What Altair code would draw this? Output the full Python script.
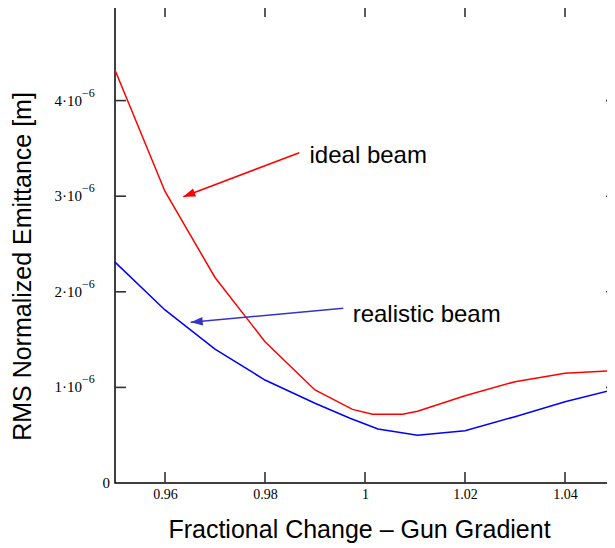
import altair as alt
import pandas as pd

# ---- data ----
ideal_x = [0.95, 0.96, 0.97, 0.98, 0.99, 0.9975, 1.0015, 1.0075, 1.0105, 1.02, 1.03, 1.04, 1.05]
ideal_y = [4.32, 3.05, 2.15, 1.478, 0.973, 0.77, 0.72, 0.72, 0.75, 0.913, 1.06, 1.147, 1.175]
real_x = [0.95, 0.96, 0.97, 0.98, 0.99, 0.997, 1.0, 1.0026, 1.0105, 1.02, 1.03, 1.04, 1.05]
real_y = [2.31, 1.81, 1.40, 1.077, 0.834, 0.677, 0.617, 0.565, 0.499, 0.547, 0.694, 0.85, 0.98]

series_names = ["ideal beam", "realistic beam"]
series_colors = ["#ff0000", "#0000ff"]
arrow_colors = ["#ff0000", "#3434c8"]

# annotation arrows (start -> tip), head centres, text anchors (data units, y in 1e-6 m)
arrow_x0 = [0.98686, 0.99566]
arrow_y0 = [3.455, 1.827]
arrow_x1 = [0.96366, 0.96514]
arrow_y1 = [2.995, 1.681]
head_x = [0.96478, 0.96634]
head_y = [3.0167, 1.6867]
head_angle = [249.2, 264.8]
text_x = [0.9889, 0.99753]
text_y = [3.42, 1.76]

xticks = [0.96, 0.98, 1.0, 1.02, 1.04]
yticks = [1, 2, 3, 4]
ytick_base = ["1·10", "2·10", "3·10", "4·10"]
ytick_sup = ["−6", "−6", "−6", "−6"]

E = 1e-6
lines = pd.DataFrame(
    {"x": ideal_x + real_x,
     "y": [v * E for v in ideal_y] + [v * E for v in real_y],
     "series": [series_names[0]] * len(ideal_x) + [series_names[1]] * len(real_x)}
)
ann = pd.DataFrame({
    "label": series_names, "color": arrow_colors,
    "x": arrow_x0, "y": [v * E for v in arrow_y0],
    "x2": arrow_x1, "y2": [v * E for v in arrow_y1],
    "hx": head_x, "hy": [v * E for v in head_y], "angle": head_angle,
    "tx": text_x, "ty": [v * E for v in text_y],
})
xt = pd.DataFrame({"x": xticks})
yt = pd.DataFrame({"y": [v * E for v in yticks], "base": ytick_base, "sup": ytick_sup})
y0 = pd.DataFrame({"y": [0.0], "base": ["0"]})

W, H = 500, 478
xscale = alt.Scale(domain=[0.95, 1.05], nice=False, zero=False)
yscale = alt.Scale(domain=[0, 5e-6], nice=False, zero=True)
XT = "Fractional Change – Gun Gradient"
YT = "RMS Normalized Emittance [m]"
xaxis = alt.Axis(values=xticks, format="~g", labelFont="Liberation Serif", labelFontSize=14,
                 labelColor="black", labelPadding=4, ticks=False, domain=False, grid=False,
                 title=XT, titleFont="Liberation Sans", titleFontSize=25, titleFontWeight="normal",
                 titleColor="black", titleX=244, titleY=46, titleBaseline="middle", titleAlign="center")
yaxis = alt.Axis(labels=False, ticks=False, domain=False, grid=False,
                 title=YT, titleFont="Liberation Sans", titleFontSize=25, titleFontWeight="normal",
                 titleColor="black", titleX=-93, titleY=261, titleAngle=-90,
                 titleBaseline="middle", titleAlign="center")


def X(f):
    return alt.X(f, type="quantitative", scale=xscale, axis=xaxis, title=XT)


def Y(f):
    return alt.Y(f, type="quantitative", scale=yscale, axis=yaxis, title=YT)


curves = alt.Chart(lines).mark_line(strokeWidth=1.5).encode(
    x=X("x"), y=Y("y"),
    color=alt.Color("series:N", scale=alt.Scale(domain=series_names, range=series_colors), legend=None),
)
arrows = alt.Chart(ann).mark_rule(strokeWidth=1.5).encode(
    x=X("x"), y=Y("y"), x2="x2", y2="y2", color=alt.Color("color:N", scale=None)
)
heads = alt.Chart(ann).mark_point(shape="M0,-1L0.7,1L-0.7,1Z", size=144, filled=True, opacity=1).encode(
    x=X("hx"), y=Y("hy"), angle=alt.Angle("angle:Q", scale=None), color=alt.Color("color:N", scale=None)
)
texts = alt.Chart(ann).mark_text(align="left", baseline="middle", font="Liberation Sans",
                                 fontSize=24, color="black").encode(
    x=X("tx"), y=Y("ty"), text="label:N"
)
tick_style = dict(color="#333333", strokeWidth=1.6)
bt = alt.Chart(xt).mark_rule(**tick_style).encode(x=X("x"), y=alt.value(H), y2=alt.value(H - 11))
tt = alt.Chart(xt).mark_rule(**tick_style).encode(x=X("x"), y=alt.value(0), y2=alt.value(12))
lt = alt.Chart(yt).mark_rule(**tick_style).encode(y=Y("y"), x=alt.value(0), x2=alt.value(11))
rt = alt.Chart(yt).mark_rule(**tick_style).encode(y=Y("y"), x=alt.value(W), x2=alt.value(W - 9))
ylab = alt.Chart(yt).mark_text(align="right", baseline="middle", font="Liberation Serif",
                               fontSize=15, color="black").encode(y=Y("y"), x=alt.value(-33), text="base:N")
ysup = alt.Chart(yt).mark_text(align="left", baseline="middle", font="Liberation Serif",
                               fontSize=12, color="black", dy=-8).encode(y=Y("y"), x=alt.value(-33), text="sup:N")
yzero = alt.Chart(y0).mark_text(align="right", baseline="middle", font="Liberation Serif",
                                fontSize=15, color="black").encode(y=Y("y"), x=alt.value(-5), text="base:N")

chart = alt.layer(curves, arrows, heads, texts, bt, tt, lt, rt, ylab, ysup, yzero).properties(
    width=W, height=H,
    autosize=alt.AutoSizeParams(type="none"),
    padding={"left": 107, "top": -3, "right": -8, "bottom": 60},
    background="white",
).configure_view(stroke="black", strokeWidth=1.5)

chart.save("out.html", embed_options={"renderer": "svg", "actions": False})
